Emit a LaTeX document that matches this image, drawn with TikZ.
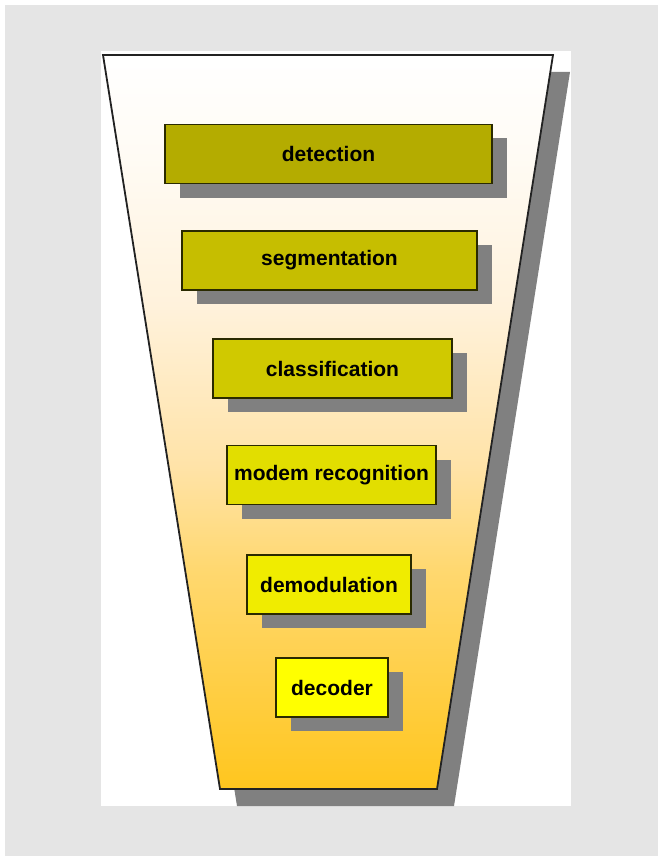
\documentclass[tikz,border=0pt]{standalone}
\usepackage{fontspec}
\setmainfont{Liberation Sans}
\usetikzlibrary{shadows}

\definecolor{bggray}{HTML}{E5E5E5}
\definecolor{shadowgray}{HTML}{808080}
\definecolor{funnelline}{HTML}{222222}
\definecolor{boxline}{HTML}{2A2A00}
\definecolor{stepA}{HTML}{B4AC00}
\definecolor{stepB}{HTML}{C6BE00}
\definecolor{stepC}{HTML}{D0C900}
\definecolor{stepD}{HTML}{E2DE00}
\definecolor{stepE}{HTML}{F0EC00}
\definecolor{stepF}{HTML}{FFFF00}
\definecolor{funnelbot}{HTML}{FFC61E}
\definecolor{funnelA}{HTML}{FFD870}
\definecolor{funnelB}{HTML}{FFE3A8}
\definecolor{funnelC}{HTML}{FFF2DC}
\definecolor{funnelD}{HTML}{FFFBF4}

\pgfdeclareverticalshading{funnelfill}{100bp}{color(0bp)=(funnelbot); color(25bp)=(funnelbot); color(40bp)=(funnelA); color(47bp)=(funnelB); color(58bp)=(funnelC); color(68bp)=(funnelD); color(75bp)=(white); color(100bp)=(white)}

\begin{document}
\begin{tikzpicture}[x=1pt,y=-1pt,
  stage/.style={draw=boxline,line width=1.3pt,inner sep=0pt,minimum height=59pt,
    font=\fontsize{21}{24}\selectfont\bfseries,text=black,
    general shadow={shadow xshift=15pt,shadow yshift=-14pt,fill=shadowgray}}]

        \useasboundingbox (0,0) rectangle (663,861);

        %%% background %%%
        \fill[bggray] (5,5) rectangle (658,856);
        \fill[white] (101,51) rectangle (571,806);

        %%% funnel %%%
        \fill[shadowgray] (120,72) -- (570,72) -- (454,806) -- (237,806) -- cycle;
        \draw[line width=1.8pt,draw=funnelline,shading=funnelfill]
          (103,55) coordinate (tl) -- (553,55) coordinate (tr)
          -- (437,789) coordinate (br) -- (220,789) coordinate (bl) -- cycle;

        %%% stages %%%
        \foreach \name/\txt/\cx/\cy/\w/\col in {
            det/detection/328.5/154/327/stepA,
            seg/segmentation/329.5/260.5/295/stepB,
            cls/classification/332.5/368.5/239/stepC,
            mod/modem recognition/331.5/475/209/stepD,
            dem/demodulation/329/584.5/164/stepE,
            dec/decoder/332/687.5/112/stepF}{
          \node[stage,fill=\col,minimum width=\w pt] (\name) at (\cx,\cy) {\txt};
        }

      \end{tikzpicture}
\end{document}
